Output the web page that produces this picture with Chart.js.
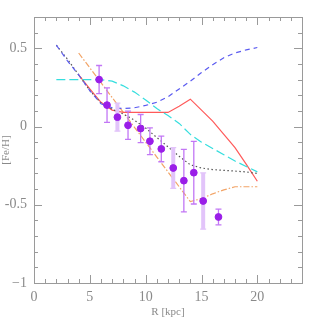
<!DOCTYPE html>
<html>
<head>
<meta charset="utf-8">
<script src="https://cdn.jsdelivr.net/npm/chart.js@4/dist/chart.umd.min.js"></script>
<style>
  body { margin: 0; background: #fff; }
  #wrap { width: 319px; height: 319px; }
</style>
</head>
<body>
<div id="wrap"><canvas id="feChart" width="319" height="319"></canvas></div>
<script>
// observed [Fe/H] with errors
var obsR   = [5.83, 6.54, 7.47, 8.42, 9.55, 10.38, 11.4, 12.47, 13.42, 14.31, 15.15, 16.52];
var obsFe  = [0.30, 0.137, 0.06, 0.008, -0.013, -0.094, -0.143, -0.265, -0.346, -0.295, -0.476, -0.578];
var obsErr = [0.09, 0.11, 0.09, 0.09, 0.09, 0.085, 0.082, 0.13, 0.20, 0.20, 0.18, 0.05];
var wideBars = [2, 7, 10];   // drawn as the pale wide bars

// model gradients
var modelR   = [2, 3, 4, 5, 6, 7, 8, 9, 10, 11, 12, 13, 14, 15, 16, 17, 18, 19, 20];
var blueFe   = [0.52, 0.42, 0.33, 0.23, 0.145, 0.12, 0.115, 0.12, 0.135, 0.155, 0.19, 0.24, 0.29, 0.345, 0.395, 0.44, 0.47, 0.49, 0.505];
var grayFe   = [0.52, 0.43, 0.33, 0.23, 0.15, 0.11, 0.08, 0.04, -0.01, -0.07, -0.13, -0.19, -0.245, -0.265, -0.275, -0.28, -0.285, -0.29, -0.30];
var cyanFe   = [0.30, 0.30, 0.30, 0.30, 0.30, 0.29, 0.26, 0.22, 0.17, 0.115, 0.07, 0.02, -0.05, -0.10, -0.14, -0.18, -0.22, -0.255, -0.29];
var innerR   = [4, 5, 6, 7, 8, 9, 10, 11, 12, 13, 14, 15, 16, 17, 18, 19, 20];
var redFe    = [0.33, 0.24, 0.155, 0.105, 0.09, 0.09, 0.09, 0.09, 0.09, 0.13, 0.175, 0.105, 0.035, -0.05, -0.135, -0.24, -0.35];
var orangeFe = [0.47, 0.375, 0.28, 0.185, 0.09, -0.005, -0.10, -0.195, -0.29, -0.385, -0.48, -0.46, -0.43, -0.405, -0.385, -0.385, -0.385];

var xTicks = [0, 5, 10, 15, 20];
var yTicks = [-1, -0.5, 0, 0.5];
var yTickLabels = ['\u22121', '-0.5', '0', '0.5'];

function pts(xs, ys) {
  return xs.map(function (x, i) { return { x: x, y: ys[i] }; });
}

function lineSet(xs, ys, color, dash) {
  return {
    type: 'line',
    data: pts(xs, ys),
    borderColor: color,
    borderWidth: 1.2,
    borderDash: dash,
    pointRadius: 0,
    fill: false,
    tension: 0,
    order: 1
  };
}

var axisColor = '#9a9a9a';

// error bars under the points
var errorBars = {
  id: 'errorBars',
  beforeDatasetDraw: function (chart, args) {
    if (args.index !== 0) return;
    var ctx = chart.ctx, xs = chart.scales.x, ys = chart.scales.y;
    ctx.save();
    obsR.forEach(function (r, i) {
      var px = xs.getPixelForValue(r);
      var top = ys.getPixelForValue(obsFe[i] + obsErr[i]);
      var bot = ys.getPixelForValue(obsFe[i] - obsErr[i]);
      var wide = wideBars.indexOf(i) >= 0;
      ctx.strokeStyle = wide ? '#e2c4fa' : '#c277f5';
      ctx.lineWidth = wide ? 4 : 1.3;
      ctx.beginPath();
      ctx.moveTo(px, top); ctx.lineTo(px, bot);
      ctx.stroke();
      ctx.lineWidth = 1.3;
      ctx.beginPath();
      ctx.moveTo(px - 3, top); ctx.lineTo(px + 3, top);
      ctx.moveTo(px - 3, bot); ctx.lineTo(px + 3, bot);
      ctx.stroke();
    });
    ctx.restore();
  }
};

// box with inward ticks on all four sides
var frame = {
  id: 'frame',
  afterDraw: function (chart) {
    var ctx = chart.ctx, xs = chart.scales.x, ys = chart.scales.y;
    var a = chart.chartArea;
    ctx.save();
    ctx.strokeStyle = axisColor;
    ctx.lineWidth = 1;
    ctx.strokeRect(Math.round(a.left) + 0.5, Math.round(a.top) + 0.5,
                   Math.round(a.right - a.left), Math.round(a.bottom - a.top));
    ctx.beginPath();
    for (var v = 0; v <= 24; v++) {
      var p = Math.round(xs.getPixelForValue(v)) + 0.5;
      var len = v % 5 === 0 ? 8 : 4;
      ctx.moveTo(p, a.bottom); ctx.lineTo(p, a.bottom - len);
      ctx.moveTo(p, a.top); ctx.lineTo(p, a.top + len);
    }
    for (var k = -10; k <= 7; k++) {
      var q = Math.round(ys.getPixelForValue(k / 10)) + 0.5;
      var l2 = k % 5 === 0 ? 8 : 4;
      ctx.moveTo(a.left, q); ctx.lineTo(a.left + l2, q);
      ctx.moveTo(a.right, q); ctx.lineTo(a.right - l2, q);
    }
    ctx.stroke();
    ctx.restore();
  }
};

var ctx = document.getElementById('feChart').getContext('2d');

var chart = new Chart(ctx, {
  type: 'scatter',
  data: {
    datasets: [
      {
        type: 'scatter',
        data: pts(obsR, obsFe),
        backgroundColor: '#9a1ee8',
        borderColor: '#9a1ee8',
        pointRadius: 3.4,
        order: 0
      },
      lineSet(modelR, blueFe, '#5a5af0', [5, 4]),
      lineSet(modelR, grayFe, '#555555', [1.5, 2.5]),
      lineSet(modelR, cyanFe, '#35dede', [9, 4]),
      lineSet(innerR, redFe, '#ff5a5a', []),
      lineSet(innerR, orangeFe, '#f2a467', [6, 2, 1.5, 2])
    ]
  },
  options: {
    responsive: false,
    animation: false,
    events: [],
    layout: { padding: { top: 17, right: 17, left: 0, bottom: 0 } },
    plugins: { legend: { display: false }, tooltip: { enabled: false } },
    scales: {
      x: {
        type: 'linear',
        min: 0, max: 24,
        grid: { display: false, drawTicks: false },
        border: { display: false },
        afterBuildTicks: function (s) { s.ticks = xTicks.map(function (v) { return { value: v }; }); },
        afterFit: function (s) { s.height = 36; },
        ticks: {
          color: '#8a8a8a', padding: 6, maxRotation: 0,
          font: { family: 'Liberation Serif', size: 14 }
        },
        title: {
          display: true, text: 'R [kpc]', color: '#8a8a8a', padding: 0,
          font: { family: 'Liberation Serif', size: 11 }
        }
      },
      y: {
        type: 'linear',
        min: -1, max: 0.7,
        grid: { display: false, drawTicks: false },
        border: { display: false },
        afterBuildTicks: function (s) { s.ticks = yTicks.map(function (v) { return { value: v }; }); },
        afterFit: function (s) { s.width = 34; },
        ticks: {
          color: '#8a8a8a', padding: 7,
          font: { family: 'Liberation Serif', size: 14 },
          callback: function (v) { return yTickLabels[yTicks.indexOf(v)]; }
        },
        title: {
          display: true, text: '[Fe/H]', color: '#8a8a8a', padding: 0,
          font: { family: 'Liberation Serif', size: 11 }
        }
      }
    }
  },
  plugins: [errorBars, frame]
});
</script>
</body>
</html>
